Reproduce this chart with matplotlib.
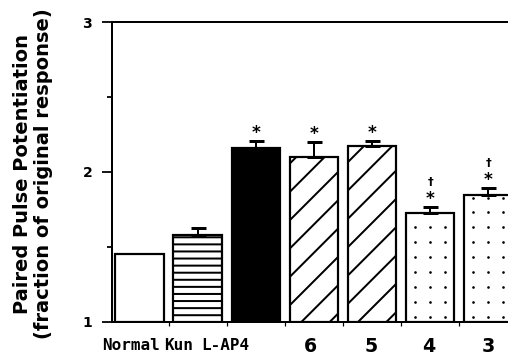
import matplotlib
matplotlib.use("Agg")
import matplotlib.pyplot as plt
import numpy as np
from matplotlib.ticker import FixedLocator, NullFormatter

# ---- data ----
categories = ["Normal", "Kun", "L-AP4", "6", "5", "4", "3"]
values = [1.45, 1.578, 2.157, 2.10, 2.174, 1.723, 1.845]
errors = [0.0, 0.048, 0.048, 0.097, 0.033, 0.040, 0.045]
stars = ["", "", "*", "*", "*", "*", "*"]
daggers = ["", "", "", "", "", "\u2020", "\u2020"]
yticks = [1, 2, 3]
yminor = [1.5, 2.5]

# ---- style ----
DPI = 85
W, H = 508, 355
def pt(px):
    return px * 72.0 / DPI

fills = ["white", "white", "black", "white", "white", "white", "white"]
hatches = [None, "--", None, "/", "/", None, None]
dotted = [False, False, False, False, False, True, True]
label_shift_px = [-9, -19.5, -31, -3, -1, -1.5, 0]
plt.rcParams["hatch.linewidth"] = pt(2.0)
plt.rcParams["font.family"] = ["DejaVu Sans"]

fig = plt.figure(figsize=(W / DPI, H / DPI), dpi=DPI)
left_px, base_px, top_px = 112.3, 321.5, 22.0
ax = fig.add_axes([left_px / W, 1 - base_px / H, 1 - left_px / W, (base_px - top_px) / H])
xlim = (-0.47, 6.34)
px_per_unit = (W - left_px) / (xlim[1] - xlim[0])

x = list(range(len(categories)))
bw = 0.834
bars = ax.bar(x, [v - 1 for v in values], bottom=1, width=bw,
              color=fills, edgecolor="black", linewidth=pt(2.2), zorder=2)
for b, h in zip(bars, hatches):
    if h:
        b.set_hatch(h)

# dotted texture (aligned grid) for the stippled bars
for b, xi, v, dt in zip(bars, x, values, dotted):
    if not dt:
        continue
    cols = xi + np.array([-0.26, 0.0, 0.26])
    rows = np.arange(1.032, v - 0.015, 0.0995)
    gx, gy = np.meshgrid(cols, rows)
    sc = ax.scatter(gx.ravel(), gy.ravel(), s=5, color="black", marker="o",
                    linewidths=0, zorder=2.5)
    sc.set_clip_path(b)

ex = [xi for xi, e in zip(x, errors) if e > 0]
ev = [v for v, e in zip(values, errors) if e > 0]
ee = [e for e in errors if e > 0]
ax.errorbar(ex, ev, yerr=[[0] * len(ee), ee], fmt="none",
            ecolor="black", elinewidth=pt(2.0), capsize=pt(7.5), capthick=pt(3.0), zorder=3)

for xi, v, e, s, d in zip(x, values, errors, stars, daggers):
    top = v + e
    if s:
        ax.annotate(s, (xi, top), xytext=(0, pt(3)), textcoords="offset points",
                    ha="center", va="baseline", fontsize=pt(17), fontweight="bold", zorder=4)
    if d:
        ax.annotate(d, (xi, top), xytext=(0, pt(22)), textcoords="offset points",
                    ha="center", va="baseline", fontsize=pt(11.5), fontweight="bold", zorder=4)

ax.set_xlim(*xlim)
ax.set_ylim(1, 3)

ax.spines["right"].set_visible(False)
for sp in ("left", "bottom", "top"):
    ax.spines[sp].set_linewidth(pt(2.0))

ax.set_yticks(yticks)
ax.set_yticklabels([str(t) for t in yticks], fontsize=pt(14), fontweight="bold")
ax.yaxis.set_minor_locator(FixedLocator(yminor))
ax.tick_params(axis="y", which="major", direction="out", length=pt(10), width=pt(1.8), pad=pt(10))
ax.tick_params(axis="y", which="minor", direction="out", length=pt(5), width=pt(1.8))

ax.set_xticks([xi + s / px_per_unit for xi, s in zip(x, label_shift_px)])
ax.set_xticklabels(categories)
for lab, c in zip(ax.get_xticklabels(), categories):
    lab.set_fontweight("bold")
    if c.isdigit():
        lab.set_fontsize(pt(19))
        lab.set_family(["DejaVu Sans"])
    else:
        lab.set_fontsize(pt(16))
        lab.set_family(["DejaVu Sans Mono"])
ax.xaxis.set_minor_locator(FixedLocator([i + 0.5 for i in x[:-1]]))
ax.xaxis.set_minor_formatter(NullFormatter())
ax.tick_params(axis="x", which="major", length=0, pad=pt(16))
ax.tick_params(axis="x", which="minor", direction="out", length=pt(4), width=pt(1.2))

fig.text(33 / W, 1 - 174 / H, "Paired Pulse Potentiation\n(fraction of original response)",
         rotation=90, ha="center", va="center", multialignment="center",
         fontsize=pt(19.5), fontweight="bold", linespacing=1.1)

fig.savefig("out.png", dpi=DPI)
